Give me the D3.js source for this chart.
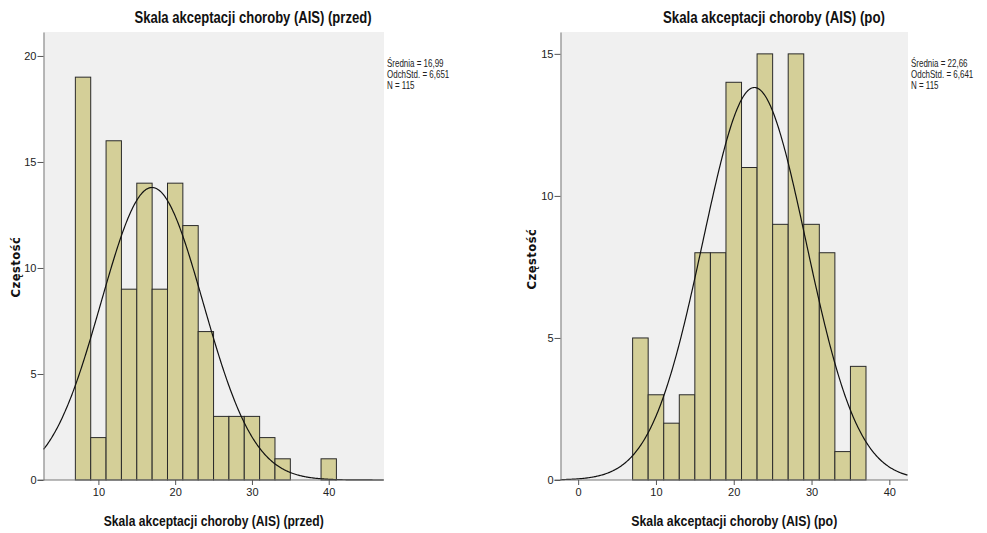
<!DOCTYPE html>
<html>
<head>
<meta charset="utf-8">
<script src="https://cdnjs.cloudflare.com/ajax/libs/d3/7.8.5/d3.min.js"></script>
<style>
  body { margin: 0; background: #fff; }
  text { font-family: "Liberation Sans Narrow", "Arial Narrow", "Liberation Sans", sans-serif; }
</style>
</head>
<body>
<div id="chart"></div>
<script>
// bins of width 2 starting at 7
const binStarts = [7, 9, 11, 13, 15, 17, 19, 21, 23, 25, 27, 29, 31, 33, 35, 37, 39];
const countsBefore = [19, 2, 16, 9, 14, 9, 14, 12, 7, 3, 3, 3, 2, 1, 0, 0, 1];
const countsAfter = [5, 3, 2, 3, 8, 8, 14, 11, 15, 9, 15, 9, 8, 1, 4, 0, 0];
const binWidth = 2;

const statsBefore = { mean: 16.99, sd: 6.651, n: 115, label: ['Średnia = 16,99', 'OdchStd. = 6,651', 'N = 115'] };
const statsAfter = { mean: 22.66, sd: 6.641, n: 115, label: ['Średnia = 22,66', 'OdchStd. = 6,641', 'N = 115'] };

const ticksBeforeX = [10, 20, 30, 40];
const ticksBeforeY = [0, 5, 10, 15, 20];
const ticksAfterX = [0, 10, 20, 30, 40];
const ticksAfterY = [0, 5, 10, 15];

const svg = d3.select('#chart').append('svg')
  .attr('width', 987)
  .attr('height', 533);

function drawPanel(cfg) {
  const g = svg.append('g');
  const x = d3.scaleLinear().domain(cfg.xDomain).range([cfg.left, cfg.right]);
  const y = d3.scaleLinear().domain([0, cfg.yMax]).range([cfg.bottom, cfg.top]);

  // plot background
  g.append('rect')
    .attr('x', cfg.left).attr('y', cfg.top)
    .attr('width', cfg.right - cfg.left).attr('height', cfg.bottom - cfg.top)
    .attr('fill', '#f0f0f0');

  // bars
  const bins = binStarts.map((s, i) => ({ x0: s, x1: s + binWidth, n: cfg.counts[i] })).filter(d => d.n > 0);
  g.selectAll('.bar')
    .data(bins)
    .enter().append('rect')
    .attr('class', 'bar')
    .attr('x', d => x(d.x0))
    .attr('y', d => y(d.n))
    .attr('width', d => x(d.x1) - x(d.x0))
    .attr('height', d => y(0) - y(d.n))
    .attr('fill', '#d4cf98')
    .attr('stroke', '#2a2a2a')
    .attr('stroke-width', 1);

  // normal curve
  const s = cfg.stats;
  const pdf = v => s.n * binWidth * Math.exp(-0.5 * ((v - s.mean) / s.sd) ** 2) / (s.sd * Math.sqrt(2 * Math.PI));
  const xs = d3.range(cfg.xDomain[0], cfg.xDomain[1] + 0.01, 0.1);
  g.append('path')
    .datum(xs)
    .attr('fill', 'none')
    .attr('stroke', '#111')
    .attr('stroke-width', 1.2)
    .attr('d', d3.line().x(v => x(v)).y(v => y(pdf(v))));

  // axes
  const xAxis = g.append('g')
    .attr('transform', `translate(0,${cfg.bottom})`)
    .call(d3.axisBottom(x).tickValues(cfg.xTicks).tickSize(5).tickSizeOuter(0).tickPadding(3));
  const yAxis = g.append('g')
    .attr('transform', `translate(${cfg.left},0)`)
    .call(d3.axisLeft(y).tickValues(cfg.yTicks).tickSize(6).tickSizeOuter(0).tickPadding(1));
  [xAxis, yAxis].forEach(a => {
    a.select('.domain').attr('stroke', '#777');
    a.selectAll('.tick line').attr('stroke', '#555');
    a.selectAll('.tick text')
      .attr('fill', '#222')
      .style('font-size', '11px')
      .style('font-family', '"Liberation Sans Narrow", "Arial Narrow", sans-serif');
  });
  // x axis line spans full width, starting at the y tick
  xAxis.select('.domain').attr('d', `M${cfg.left - 6},0H${cfg.right}`);

  // title (condensed to match the narrow original face)
  g.append('text')
    .attr('x', cfg.titleX - cfg.titleLen / 2).attr('y', 23)
    .attr('textLength', cfg.titleLen).attr('lengthAdjust', 'spacingAndGlyphs')
    .style('font-size', '16px').style('font-weight', 'bold')
    .attr('fill', '#111')
    .text(cfg.title);

  // x label
  g.append('text')
    .attr('x', (cfg.left + cfg.right) / 2 - cfg.xLabelLen / 2).attr('y', 526)
    .attr('textLength', cfg.xLabelLen).attr('lengthAdjust', 'spacingAndGlyphs')
    .style('font-size', '15px').style('font-weight', 'bold')
    .attr('fill', '#111')
    .text(cfg.title);

  // y label
  g.append('text')
    .attr('transform', `translate(${cfg.yLabelX},${cfg.yLabelY}) rotate(-90)`)
    .attr('text-anchor', 'middle')
    .style('font-family', '"DejaVu Sans", Verdana, sans-serif')
    .style('font-size', '11.5px').style('font-weight', 'bold')
    .style('letter-spacing', '0.5px')
    .attr('fill', '#111')
    .text('Częstość');

  // stats legend
  const leg = g.append('g')
    .attr('transform', `translate(${cfg.right + 3},0) scale(0.76,1)`);
  leg.selectAll('.stat')
    .data(s.label)
    .enter().append('text')
    .attr('class', 'stat')
    .attr('x', 0)
    .attr('y', (d, i) => 67 + i * 11.2)
    .style('font-size', '10.5px')
    .attr('fill', '#222')
    .text(d => d);
}

drawPanel({
  left: 43.5, right: 384, top: 32, bottom: 480,
  xDomain: [2.85, 47.2], yMax: 21.13,
  counts: countsBefore, stats: statsBefore,
  xTicks: ticksBeforeX, yTicks: ticksBeforeY,
  title: 'Skala akceptacji choroby (AIS) (przed)',
  titleX: 253, titleLen: 237, xLabelLen: 220,
  yLabelX: 20, yLabelY: 267
});

drawPanel({
  left: 560.5, right: 908, top: 32, bottom: 480,
  xDomain: [-2.27, 42.4], yMax: 15.77,
  counts: countsAfter, stats: statsAfter,
  xTicks: ticksAfterX, yTicks: ticksAfterY,
  title: 'Skala akceptacji choroby (AIS) (po)',
  titleX: 774, titleLen: 222, xLabelLen: 206,
  yLabelX: 536, yLabelY: 259
});
</script>
</body>
</html>
